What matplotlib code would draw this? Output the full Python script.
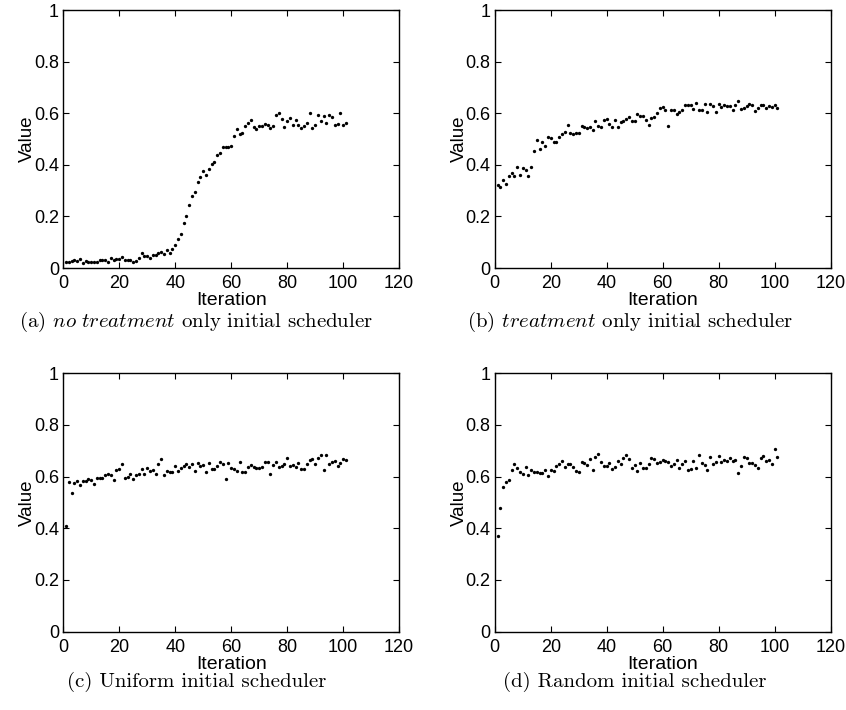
import matplotlib
matplotlib.use('Agg')
import matplotlib.pyplot as plt
import numpy as np

plt.rcParams['mathtext.fontset'] = 'cm'

# iterations 1..101
iters = np.arange(1, 102)

# (a) no treatment only initial scheduler
val_a = [0.023, 0.024, 0.028, 0.033, 0.028, 0.035, 0.020, 0.027, 0.024, 0.023,
         0.023, 0.024, 0.032, 0.031, 0.033, 0.025, 0.037, 0.032, 0.036, 0.035,
         0.044, 0.032, 0.033, 0.031, 0.023, 0.027, 0.040, 0.057, 0.047, 0.047,
         0.039, 0.052, 0.050, 0.057, 0.061, 0.056, 0.068, 0.057, 0.075, 0.089,
         0.114, 0.132, 0.173, 0.203, 0.243, 0.279, 0.294, 0.334, 0.353, 0.377,
         0.360, 0.384, 0.403, 0.410, 0.437, 0.444, 0.468, 0.469, 0.469, 0.473,
         0.510, 0.539, 0.521, 0.525, 0.550, 0.561, 0.575, 0.548, 0.537, 0.552,
         0.552, 0.557, 0.553, 0.541, 0.550, 0.592, 0.602, 0.576, 0.548, 0.571,
         0.581, 0.553, 0.575, 0.553, 0.544, 0.552, 0.563, 0.601, 0.544, 0.553,
         0.594, 0.570, 0.590, 0.561, 0.594, 0.587, 0.556, 0.557, 0.602, 0.556,
         0.563]

# (b) treatment only initial scheduler
val_b = [0.322, 0.315, 0.342, 0.324, 0.357, 0.368, 0.358, 0.391, 0.360, 0.389,
         0.379, 0.358, 0.391, 0.452, 0.496, 0.460, 0.490, 0.473, 0.508, 0.503,
         0.488, 0.490, 0.506, 0.521, 0.527, 0.553, 0.522, 0.521, 0.523, 0.522,
         0.549, 0.545, 0.541, 0.548, 0.535, 0.570, 0.550, 0.545, 0.572, 0.579,
         0.558, 0.548, 0.572, 0.547, 0.567, 0.570, 0.579, 0.584, 0.570, 0.570,
         0.597, 0.590, 0.590, 0.574, 0.556, 0.581, 0.584, 0.599, 0.619, 0.625,
         0.614, 0.552, 0.614, 0.614, 0.598, 0.605, 0.611, 0.632, 0.632, 0.633,
         0.616, 0.640, 0.614, 0.614, 0.637, 0.603, 0.634, 0.629, 0.605, 0.636,
         0.624, 0.632, 0.629, 0.628, 0.611, 0.632, 0.646, 0.616, 0.621, 0.628,
         0.634, 0.632, 0.609, 0.621, 0.633, 0.633, 0.621, 0.629, 0.624, 0.633,
         0.621]

# (c) Uniform initial scheduler
val_c = [0.410, 0.581, 0.538, 0.575, 0.583, 0.569, 0.583, 0.584, 0.591, 0.586,
         0.572, 0.596, 0.594, 0.595, 0.605, 0.609, 0.606, 0.586, 0.626, 0.631,
         0.650, 0.596, 0.597, 0.609, 0.590, 0.605, 0.610, 0.628, 0.612, 0.635,
         0.622, 0.625, 0.610, 0.649, 0.670, 0.606, 0.622, 0.618, 0.618, 0.642,
         0.622, 0.635, 0.641, 0.649, 0.637, 0.649, 0.622, 0.654, 0.640, 0.644,
         0.619, 0.652, 0.631, 0.631, 0.640, 0.656, 0.649, 0.592, 0.652, 0.633,
         0.631, 0.623, 0.657, 0.619, 0.619, 0.636, 0.644, 0.636, 0.633, 0.635,
         0.639, 0.656, 0.658, 0.610, 0.645, 0.658, 0.637, 0.642, 0.649, 0.673,
         0.640, 0.645, 0.639, 0.652, 0.631, 0.631, 0.650, 0.663, 0.668, 0.649,
         0.673, 0.684, 0.626, 0.683, 0.650, 0.658, 0.662, 0.641, 0.652, 0.670,
         0.663]

# (d) Random initial scheduler
val_d = [0.369, 0.478, 0.561, 0.578, 0.586, 0.626, 0.648, 0.632, 0.618, 0.611,
         0.636, 0.606, 0.627, 0.617, 0.619, 0.614, 0.613, 0.627, 0.604, 0.627,
         0.622, 0.641, 0.648, 0.662, 0.639, 0.649, 0.649, 0.639, 0.622, 0.618,
         0.655, 0.654, 0.646, 0.670, 0.627, 0.676, 0.688, 0.658, 0.642, 0.641,
         0.652, 0.628, 0.639, 0.661, 0.648, 0.671, 0.685, 0.667, 0.635, 0.644,
         0.623, 0.654, 0.635, 0.634, 0.649, 0.672, 0.670, 0.654, 0.657, 0.666,
         0.662, 0.655, 0.640, 0.650, 0.663, 0.635, 0.649, 0.661, 0.626, 0.630,
         0.662, 0.632, 0.683, 0.653, 0.644, 0.625, 0.677, 0.650, 0.658, 0.681,
         0.657, 0.663, 0.659, 0.671, 0.661, 0.663, 0.614, 0.640, 0.677, 0.671,
         0.654, 0.654, 0.646, 0.634, 0.671, 0.680, 0.661, 0.666, 0.650, 0.706,
         0.675]

captions = [r'(a) $\mathit{no\ treatment}$ only initial scheduler',
            r'(b) $\mathit{treatment}$ only initial scheduler',
            '(c) Uniform initial scheduler',
            '(d) Random initial scheduler']

xticks = [0, 20, 40, 60, 80, 100, 120]
yticks = [0, 0.2, 0.4, 0.6, 0.8, 1]
yticklabels = ['0', '0.2', '0.4', '0.6', '0.8', '1']

fig = plt.figure(figsize=(8.46, 7.10), dpi=100)

boxes = [[0.0748, 0.6225, 0.397, 0.3634],
         [0.5848, 0.6225, 0.397, 0.3634],
         [0.0748, 0.1103, 0.397, 0.3640],
         [0.5848, 0.1103, 0.397, 0.3640]]
cap_pos = [(0.232, 0.546), (0.745, 0.546), (0.232, 0.039), (0.750, 0.039)]

sans = 'Liberation Sans'
for box, vals, cap, cp in zip(boxes, [val_a, val_b, val_c, val_d], captions, cap_pos):
    ax = fig.add_axes(box)
    ax.plot(iters, vals, 'o', color='black', markersize=2.4, markeredgewidth=0)
    ax.set_xlim(0, 120)
    ax.set_ylim(0, 1)
    ax.set_xticks(xticks)
    ax.set_xticklabels([str(t) for t in xticks], fontsize=13, family=sans)
    ax.set_yticks(yticks)
    ax.set_yticklabels(yticklabels, fontsize=13, family=sans)
    ax.tick_params(direction='in', top=True, right=True, length=4, width=0.8)
    ax.tick_params(axis='x', pad=5)
    ax.tick_params(axis='y', pad=3)
    ax.set_xlabel('Iteration', fontsize=14, family=sans, labelpad=0)
    ax.set_ylabel('Value', fontsize=13.5, family=sans, labelpad=-1.5)
    for s in ax.spines.values():
        s.set_linewidth(1.0)
    fig.text(cp[0], cp[1], cap, fontsize=15, family='cmr10', ha='center', va='center')

plt.savefig('out.png', dpi=100)
